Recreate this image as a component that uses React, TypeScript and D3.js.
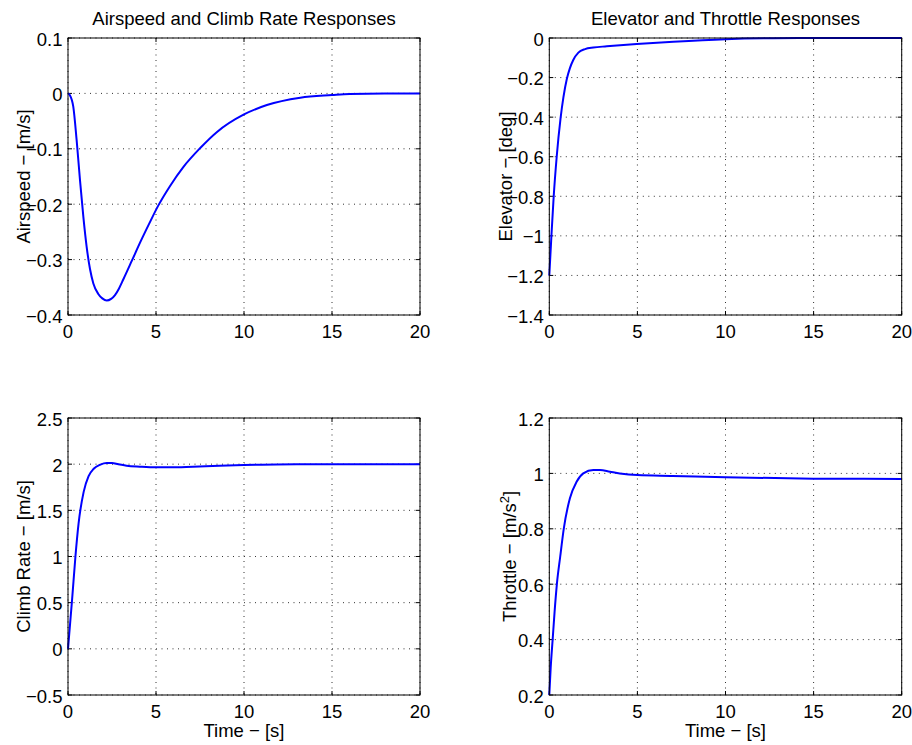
import React, { useEffect, useRef } from 'react';
import * as d3 from 'd3';

// time axis shared by all four panels
const timeTicks = [0, 5, 10, 15, 20];

// airspeed response (m/s)
const airspeedT = [0, 0.1, 0.3, 0.49, 0.68, 0.87, 1.06, 1.25, 1.44, 1.72, 1.95, 2.2, 2.45, 2.67, 2.9, 3.14, 3.63, 4.1, 4.6, 5.12, 5.8, 6.55, 7.5, 8.45, 10, 11.3, 13.2, 15, 16, 18, 20];
const airspeedV = [0, -0.003, -0.024, -0.084, -0.156, -0.222, -0.277, -0.317, -0.343, -0.362, -0.37, -0.374, -0.371, -0.364, -0.352, -0.336, -0.302, -0.269, -0.236, -0.203, -0.167, -0.133, -0.099, -0.07, -0.038, -0.021, -0.0077, -0.003, -0.001, 0, 0];
const airspeedTicks = [-0.4, -0.3, -0.2, -0.1, 0, 0.1];

// elevator response (deg)
const elevatorT = [0, 0.12, 0.25, 0.42, 0.64, 0.8, 1.0, 1.17, 1.36, 1.65, 2.03, 2.5, 3.26, 4.96, 7.04, 10, 12.7, 15, 20];
const elevatorV = [-1.2, -1.0, -0.8, -0.6, -0.405, -0.3, -0.205, -0.152, -0.111, -0.074, -0.056, -0.048, -0.042, -0.03, -0.0185, -0.006, -0.001, 0, 0];
const elevatorTicks = [-1.4, -1.2, -1.0, -0.8, -0.6, -0.4, -0.2, 0];

// climb rate response (m/s)
const climbT = [0, 0.1, 0.23, 0.42, 0.6, 0.89, 1.17, 1.46, 1.84, 2.2, 2.5, 2.86, 3.33, 4.09, 5, 5.8, 7.1, 8.6, 10, 11, 13, 15, 20];
const climbV = [0, 0.23, 0.527, 0.995, 1.356, 1.7, 1.87, 1.95, 1.995, 2.012, 2.012, 1.998, 1.983, 1.973, 1.966, 1.966, 1.973, 1.983, 1.99, 1.995, 1.999, 2.0, 2.0];
const climbTicks = [-0.5, 0, 0.5, 1, 1.5, 2, 2.5];

// throttle response
const throttleT = [0, 0.08, 0.19, 0.3, 0.43, 0.62, 0.82, 1.17, 1.55, 1.93, 2.5, 2.88, 3.44, 4.0, 5, 7, 10, 15, 20];
const throttleV = [0.2, 0.3, 0.4, 0.5, 0.6, 0.7, 0.8, 0.91, 0.97, 1.0, 1.012, 1.012, 1.006, 1.0, 0.994, 0.991, 0.986, 0.981, 0.98];
const throttleTicks = [0.2, 0.4, 0.6, 0.8, 1.0, 1.2];

const FONT = '"Liberation Sans", Arial, Helvetica, sans-serif';
const FS = '18.5px';

function fmt(v: number) {
  const s = d3.format('~g')(+v.toFixed(4));
  return s.replace('-', '\u2212');
}

function App() {
  const ref = useRef<SVGSVGElement>(null);

  useEffect(() => {
    const svg = d3.select(ref.current);
    svg.selectAll('*').remove();

    const panels = [
      { t: airspeedT, v: airspeedV, yTicks: airspeedTicks, x0: 68, x1: 420, y0: 38, y1: 315,
        title: 'Airspeed and Climb Rate Responses', ylab: 'Airspeed \u2212 [m/s]', ylabX: 30, xlab: '' },
      { t: elevatorT, v: elevatorV, yTicks: elevatorTicks, x0: 549.3, x1: 901.7, y0: 38, y1: 315,
        title: 'Elevator and Throttle Responses', ylab: 'Elevator \u2212 [deg]', ylabX: 512, xlab: '' },
      { t: climbT, v: climbV, yTicks: climbTicks, x0: 68, x1: 420, y0: 418, y1: 695,
        title: '', ylab: 'Climb Rate \u2212 [m/s]', ylabX: 30, xlab: 'Time \u2212 [s]' },
      { t: throttleT, v: throttleV, yTicks: throttleTicks, x0: 549.3, x1: 901.7, y0: 418, y1: 695,
        title: '', ylab: 'Throttle \u2212 [m/s', ylabX: 516, xlab: 'Time \u2212 [s]', sup: true },
    ];

    panels.forEach(p => {
      const x = d3.scaleLinear().domain([0, 20]).range([p.x0, p.x1]);
      const y = d3.scaleLinear().domain(d3.extent(p.yTicks) as [number, number]).range([p.y1, p.y0]);
      const g = svg.append('g');

      // dotted grid
      g.selectAll('.gx').data(timeTicks).enter().append('line')
        .attr('x1', d => x(d)).attr('x2', d => x(d))
        .attr('y1', p.y0).attr('y2', p.y1)
        .attr('stroke', '#333').attr('stroke-width', 1).attr('stroke-dasharray', '1,4.5');
      g.selectAll('.gy').data(p.yTicks).enter().append('line')
        .attr('x1', p.x0).attr('x2', p.x1)
        .attr('y1', d => y(d)).attr('y2', d => y(d))
        .attr('stroke', '#333').attr('stroke-width', 1).attr('stroke-dasharray', '1,4.5');

      // inside ticks on all four sides
      const tl = 4;
      timeTicks.forEach(d => {
        g.append('line').attr('x1', x(d)).attr('x2', x(d)).attr('y1', p.y1).attr('y2', p.y1 - tl).attr('stroke', '#000');
        g.append('line').attr('x1', x(d)).attr('x2', x(d)).attr('y1', p.y0).attr('y2', p.y0 + tl).attr('stroke', '#000');
      });
      p.yTicks.forEach(d => {
        g.append('line').attr('x1', p.x0).attr('x2', p.x0 + tl).attr('y1', y(d)).attr('y2', y(d)).attr('stroke', '#000');
        g.append('line').attr('x1', p.x1).attr('x2', p.x1 - tl).attr('y1', y(d)).attr('y2', y(d)).attr('stroke', '#000');
      });

      // the response curve
      const pts = p.t.map((t, i) => [t, p.v[i]] as [number, number]);
      const line = d3.line<[number, number]>()
        .x(d => x(d[0])).y(d => y(d[1]))
        .curve(d3.curveMonotoneX);
      g.append('path').attr('d', line(pts) as string)
        .attr('fill', 'none').attr('stroke', '#0000ff').attr('stroke-width', 2);

      // box
      g.append('rect').attr('x', p.x0).attr('y', p.y0)
        .attr('width', p.x1 - p.x0).attr('height', p.y1 - p.y0)
        .attr('fill', 'none').attr('stroke', '#000').attr('stroke-width', 1);

      // tick labels
      g.selectAll('.xl').data(timeTicks).enter().append('text')
        .attr('x', d => x(d)).attr('y', p.y1 + 23)
        .attr('text-anchor', 'middle')
        .style('font-family', FONT).style('font-size', FS)
        .text(d => fmt(d));
      g.selectAll('.yl').data(p.yTicks).enter().append('text')
        .attr('x', p.x0 - 5.5).attr('y', d => y(d) + 7.5)
        .attr('text-anchor', 'end')
        .style('font-family', FONT).style('font-size', FS)
        .text(d => fmt(d));

      if (p.title) {
        g.append('text').attr('x', (p.x0 + p.x1) / 2).attr('y', 25)
          .attr('text-anchor', 'middle')
          .style('font-family', FONT).style('font-size', FS)
          .text(p.title);
      }
      if (p.xlab) {
        g.append('text').attr('x', (p.x0 + p.x1) / 2).attr('y', 737)
          .attr('text-anchor', 'middle')
          .style('font-family', FONT).style('font-size', FS)
          .text(p.xlab);
      }
      const cy = (p.y0 + p.y1) / 2;
      const yl = g.append('text')
        .attr('transform', `translate(${p.ylabX},${cy}) rotate(-90)`)
        .attr('text-anchor', 'middle')
        .style('font-family', FONT).style('font-size', FS);
      yl.append('tspan').text(p.ylab);
      if ((p as any).sup) {
        yl.append('tspan').attr('dy', -7).style('font-size', '13px').text('2');
        yl.append('tspan').attr('dy', 7).text(']');
      }
    });
  }, []);

  return (
    <svg ref={ref} width={912} height={745}
      style={{ position: 'absolute', left: 0, top: 0, background: '#fff' }} />
  );
}

export default App;
